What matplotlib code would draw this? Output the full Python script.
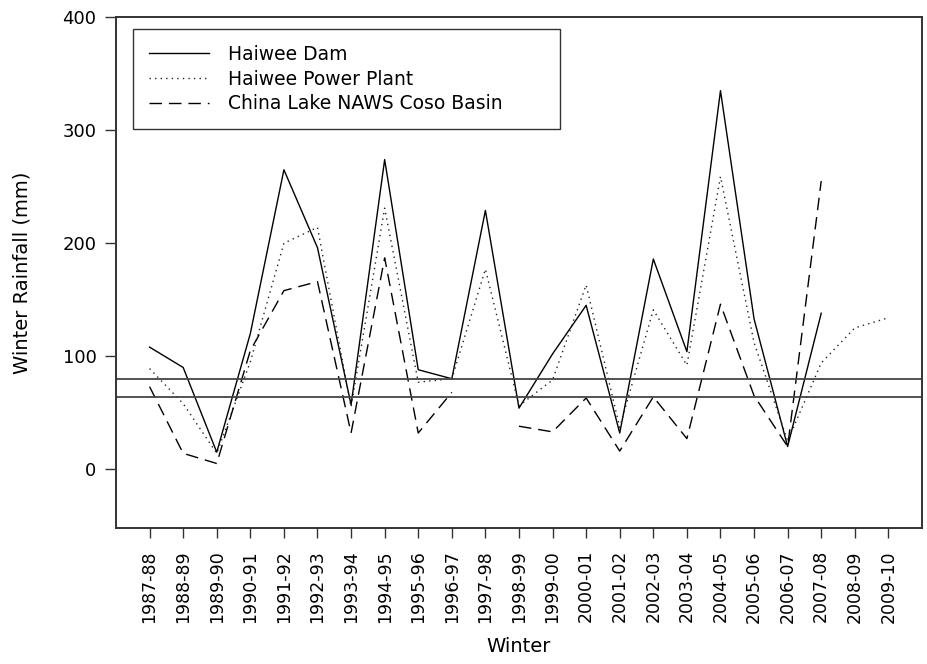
import numpy as np
import matplotlib
matplotlib.use("Agg")
import matplotlib.pyplot as plt

nan = np.nan

winters = ["1987-88", "1988-89", "1989-90", "1990-91", "1991-92", "1992-93",
           "1993-94", "1994-95", "1995-96", "1996-97", "1997-98", "1998-99",
           "1999-00", "2000-01", "2001-02", "2002-03", "2003-04", "2004-05",
           "2005-06", "2006-07", "2007-08", "2008-09", "2009-10"]

haiwee_dam = [108, 90, 15, 120, 265, 196, 57, 274, 88, 80, 229, 54,
              102, 145, 32, 186, 104, 335, 133, 20, 138, nan, nan]
haiwee_power = [89, 58, 14, 95, 200, 214, 55, 231, 77, 80, 177, 56,
                79, 163, 37, 141, 92, 259, 112, 25, 94, 125, 134]
china_lake = [73, 14, 5, 105, 158, 166, 32, 187, 32, 68, nan, 38,
              33, 63, 16, 64, 27, 146, 65, 20, 255, nan, nan]

ref_lines = [80, 64]
y_ticks = [0, 100, 200, 300, 400]

plt.rcParams['font.family'] = ['DejaVu Sans']

fig = plt.figure(figsize=(9.28, 6.64), dpi=100)
ax = fig.add_axes([0.125, 0.205, 0.8685, 0.769])

x = np.arange(len(winters))
ax.plot(x, haiwee_dam, color='black', lw=1.0, ls='-', label='Haiwee Dam')
ax.plot(x, haiwee_power, color='#222222', lw=1.0, ls=(0, (1, 3)), label='Haiwee Power Plant')
ax.plot(x, china_lake, color='black', lw=1.0, ls=(0, (9, 5)), label='China Lake NAWS Coso Basin')

for yv in ref_lines:
    ax.axhline(yv, color='#444444', lw=1.3)

ax.set_xlim(-1, len(winters))
ax.set_ylim(-52, 400)
ax.set_xticks(x)
ax.set_xticklabels(winters, rotation=90, fontsize=12.5)
ax.set_yticks(y_ticks)
ax.tick_params(axis='y', labelsize=13, length=8, width=1, color='#333333', pad=6)
ax.tick_params(axis='x', length=7, width=1, color='#333333', pad=9)

for sp in ax.spines.values():
    sp.set_linewidth(1.4)
    sp.set_color('#333333')

ax.set_xlabel('Winter', fontsize=14, labelpad=10)
ax.set_ylabel('Winter Rainfall (mm)', fontsize=14, labelpad=22)

leg = ax.legend(loc='upper left', bbox_to_anchor=(0.021, 0.977, 0.53, 0.0),
                mode='expand', borderaxespad=0, fontsize=13.5, frameon=True,
                fancybox=False, edgecolor='black', handlelength=3.2,
                handletextpad=1.0, labelspacing=0.3, borderpad=0.85)
leg.get_frame().set_linewidth(1.0)

fig.savefig('out.png', dpi=100)
